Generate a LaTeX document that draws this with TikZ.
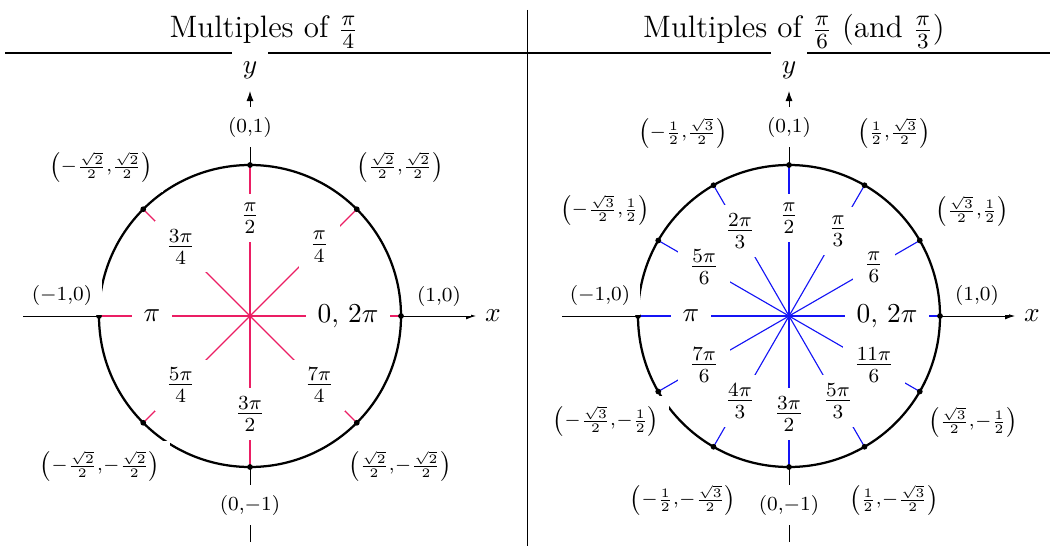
\documentclass[tikz,border=0pt]{standalone}
\usepackage{fix-cm}
\usetikzlibrary{arrows.meta,calc}
\definecolor{pinkc}{RGB}{235,30,100}
\definecolor{bluec}{RGB}{20,20,245}
\begin{document}
\begin{tikzpicture}[x=0.4pt,y=-0.4pt,
  axisline/.style={line width=0.4pt,-{Latex[length=4pt,width=2.8pt]}},
  plainline/.style={line width=0.4pt},
  rule/.style={line width=0.7pt},
  circ/.style={line width=0.9pt},
  radL/.style={line width=0.5pt,draw=pinkc},
  radR/.style={line width=0.45pt,draw=bluec},
  ang/.style={fill=white,inner xsep=4.5pt,inner ysep=3.3pt},
  big/.style={font=\fontsize{10.95}{13}\selectfont},
  coord/.style={fill=white,inner sep=4pt,font=\footnotesize},
  sq/.style={fill=white,inner sep=4pt,font=\fontsize{7.4}{9}\selectfont},
  dot/.style={circle,fill=black,inner sep=0pt,minimum size=2.3pt},
  axlab/.style={inner sep=2pt,font=\fontsize{10.95}{13}\selectfont},
  ttl/.style={font=\fontsize{12.4}{15}\selectfont,anchor=base}]
\useasboundingbox (0,0) rectangle (1050,546);

% ---------- header ----------
\node[ttl] (T1) at (264,38) {Multiples of $\frac{\pi}{4}$};
\node[ttl] (T2) at (794,38) {Multiples of $\frac{\pi}{6}$ (and $\frac{\pi}{3}$)};
\coordinate (H1) at (5,53);
\coordinate (H2) at (1050,53);
\draw[rule] (H1) -- (H2);
\coordinate (V1) at (527,10);
\coordinate (V2) at (527,546);
\draw[plainline] (V1) -- (V2);

% ---------- left diagram ----------
\coordinate (L) at (250,316);
\coordinate (Lxs) at (23,316);
\coordinate (Lxe) at (476,316);
\coordinate (Lys) at (250,542);
\coordinate (Lye) at (250,91);
\draw[axisline] (Lxs) -- (Lxe);
\draw[axisline] (Lys) -- (Lye);
\foreach \a in {0,45,...,315} {
  \coordinate (L\a) at ($(L)+(-\a:151)$);
  \draw[radL] (L) -- (L\a);
}
\draw[circ] (L) circle[radius=151];
\foreach \a in {0,45,...,315} { \node[dot] (Ld\a) at (L\a) {}; }
\foreach \a/\t in {45/{\large$\frac{\pi}{4}$},90/{\large$\frac{\pi}{2}$},
   135/{\large$\frac{3\pi}{4}$},225/{\large$\frac{5\pi}{4}$},
   270/{\large$\frac{3\pi}{2}$},315/{\large$\frac{7\pi}{4}$}} {
  \node[ang] (La\a) at ($(L)+(-\a:98)$) {\t};
}
\node[ang,big] (La0) at ($(L)+(0:98)$) {$0,\,2\pi$};
\node[ang,big] (La180) at ($(L)+(180:98)$) {$\pi$};
\node[coord] (Lp0) at (439,296) {$(1{,}0)$};
\node[coord] (Lp90) at (250,127) {$(0{,}1)$};
\node[coord] (Lp180) at (62,295) {$({-1}{,}0)$};
\node[coord] (Lp270) at (250,505) {$(0{,}{-1})$};
\node[sq] (Lp45) at (400,167) {$\left(\frac{\sqrt{2}}{2}{,}\frac{\sqrt{2}}{2}\right)$};
\node[sq] (Lp135) at (101,167) {$\left(-\frac{\sqrt{2}}{2}{,}\frac{\sqrt{2}}{2}\right)$};
\node[sq] (Lp225) at (100,466) {$\left(-\frac{\sqrt{2}}{2}{,}{-\frac{\sqrt{2}}{2}}\right)$};
\node[sq] (Lp315) at (400,466) {$\left(\frac{\sqrt{2}}{2}{,}{-\frac{\sqrt{2}}{2}}\right)$};
\node[axlab] (Lx) at (493,316) {$x$};
\node[axlab,fill=white,inner xsep=4.5pt,inner ysep=4.5pt] (Ly) at (250,70) {$y$};

% ---------- right diagram ----------
\coordinate (R) at (789,316);
\coordinate (Rxs) at (562,316);
\coordinate (Rxe) at (1015,316);
\coordinate (Rys) at (789,542);
\coordinate (Rye) at (789,91);
\draw[axisline] (Rxs) -- (Rxe);
\draw[axisline] (Rys) -- (Rye);
\foreach \a in {0,30,...,330} {
  \coordinate (R\a) at ($(R)+(-\a:151)$);
  \draw[radR] (R) -- (R\a);
}
\draw[circ] (R) circle[radius=151];
\foreach \a in {0,30,...,330} { \node[dot] (Rd\a) at (R\a) {}; }
\foreach \a/\t in {30/{\large$\frac{\pi}{6}$},60/{\large$\frac{\pi}{3}$},
   90/{\large$\frac{\pi}{2}$},120/{\large$\frac{2\pi}{3}$},150/{\large$\frac{5\pi}{6}$},
   210/{\large$\frac{7\pi}{6}$},240/{\large$\frac{4\pi}{3}$},
   270/{\large$\frac{3\pi}{2}$},330/{\large$\frac{11\pi}{6}$},300/{\large$\frac{5\pi}{3}$}} {
  \node[ang] (Ra\a) at ($(R)+(-\a:98)$) {\t};
}
\node[ang,big] (Ra0) at ($(R)+(0:98)$) {$0,\,2\pi$};
\node[ang,big] (Ra180) at ($(R)+(180:98)$) {$\pi$};
\node[coord] (Rp0) at (977,295) {$(1{,}0)$};
\node[coord] (Rp90) at (789,127) {$(0{,}1)$};
\node[coord] (Rp180) at (600,295) {$({-1}{,}0)$};
\node[coord] (Rp270) at (789,505) {$(0{,}{-1})$};
\node[sq] (Rp60) at (894,133) {$\left(\frac{1}{2}{,}\frac{\sqrt{3}}{2}\right)$};
\node[sq] (Rp120) at (683,133) {$\left(-\frac{1}{2}{,}\frac{\sqrt{3}}{2}\right)$};
\node[sq] (Rp30) at (972,211) {$\left(\frac{\sqrt{3}}{2}{,}\frac{1}{2}\right)$};
\node[sq] (Rp150) at (605,210) {$\left(-\frac{\sqrt{3}}{2}{,}\frac{1}{2}\right)$};
\node[sq] (Rp210) at (606,421) {$\left(-\frac{\sqrt{3}}{2}{,}{-\frac{1}{2}}\right)$};
\node[sq] (Rp330) at (973,422) {$\left(\frac{\sqrt{3}}{2}{,}{-\frac{1}{2}}\right)$};
\node[sq] (Rp240) at (683,500) {$\left(-\frac{1}{2}{,}{-\frac{\sqrt{3}}{2}}\right)$};
\node[sq] (Rp300) at (894,500) {$\left(\frac{1}{2}{,}{-\frac{\sqrt{3}}{2}}\right)$};
\node[axlab] (Rx) at (1032,316) {$x$};
\node[axlab,fill=white,inner xsep=4.5pt,inner ysep=4.5pt] (Ry) at (789,70) {$y$};
\end{tikzpicture}
\end{document}
